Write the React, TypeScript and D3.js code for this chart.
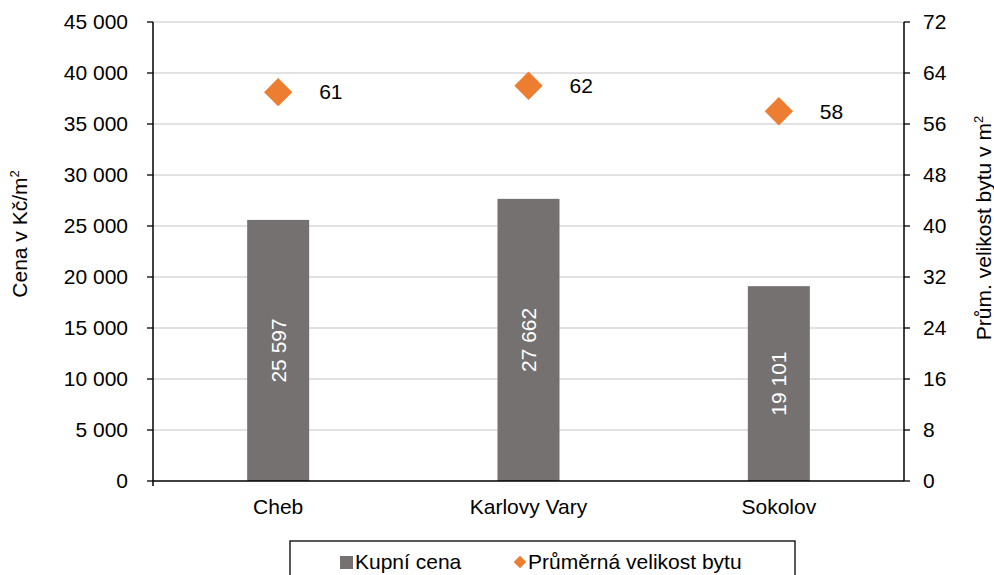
import React from "react";
import * as d3 from "d3";

const categories = ["Cheb", "Karlovy Vary", "Sokolov"];
const prices = [25597, 27662, 19101];
const sizes = [61, 62, 58];
const leftTicks = [0, 5000, 10000, 15000, 20000, 25000, 30000, 35000, 40000, 45000];
const rightTicks = [0, 8, 16, 24, 32, 40, 48, 56, 64, 72];

const W = 994, H = 575;
const M = { left: 153, right: 904, top: 22, bottom: 481 };
const FONT = "'Liberation Sans', Arial, sans-serif";
const FS = 21;
const fmt = (v: number) => d3.format(",")(v).replace(/,/g, " ");

export default function App() {
  const x = d3.scaleBand().domain(categories).range([M.left, M.right]).paddingInner(0).paddingOuter(0);
  const yL = d3.scaleLinear().domain([0, 45000]).range([M.bottom, M.top]);
  const yR = d3.scaleLinear().domain([0, 72]).range([M.bottom, M.top]);
  const barW = 62;
  const diamond = d3.symbol().type(d3.symbolSquare).size(400)();
  return (
    <svg width={W} height={H} style={{ position: "absolute", left: 0, top: 0, background: "#fff" }} fontFamily={FONT}>
      {leftTicks.map((t) => (
        <g key={"l" + t}>
          {t > 0 && <line x1={M.left} x2={M.right} y1={yL(t)} y2={yL(t)} stroke="#d9d9d9" strokeWidth={1.3} />}
          <line x1={M.left - 6} x2={M.left} y1={yL(t)} y2={yL(t)} stroke="#000" strokeWidth={1.3} />
          <text x={M.left - 25} y={yL(t)} dy="0.35em" textAnchor="end" fontSize={FS}>{fmt(t)}</text>
        </g>
      ))}
      {rightTicks.map((t) => (
        <g key={"r" + t}>
          <line x1={M.right} x2={M.right + 6} y1={yR(t)} y2={yR(t)} stroke="#000" strokeWidth={1.3} />
          <text x={M.right + 19} y={yR(t)} dy="0.35em" textAnchor="start" fontSize={FS}>{t}</text>
        </g>
      ))}
      {categories.map((c, i) => {
        const cx = (x(c) as number) + x.bandwidth() / 2;
        const top = yL(prices[i]);
        return (
          <g key={c}>
            <rect x={cx - barW / 2} y={top} width={barW} height={M.bottom - top} fill="#767171" />
            <text transform={`translate(${cx},${(top + M.bottom) / 2}) rotate(-90)`} textAnchor="middle" dy="0.35em" fontSize={FS} fill="#fff">{fmt(prices[i])}</text>
            <path d={diamond as string} transform={`translate(${cx},${yR(sizes[i])}) rotate(45)`} fill="#ED7D31" />
            <text x={cx + 41} y={yR(sizes[i])} dy="0.35em" fontSize={FS}>{sizes[i]}</text>
            <text x={cx} y={514} textAnchor="middle" fontSize={FS}>{c}</text>
          </g>
        );
      })}
      <line x1={M.left} x2={M.left} y1={M.top} y2={M.bottom + 5} stroke="#000" strokeWidth={1.5} />
      <line x1={M.right} x2={M.right} y1={M.top} y2={M.bottom} stroke="#000" strokeWidth={1.5} />
      <line x1={M.left} x2={M.right} y1={M.bottom} y2={M.bottom} stroke="#000" strokeWidth={1.5} />
      <text transform={`translate(20,234) rotate(-90)`} textAnchor="middle" dy="0.35em" fontSize={FS}>
        Cena v Kč/m<tspan dy="-8" fontSize={13}>2</tspan>
      </text>
      <text transform={`translate(984,228) rotate(-90)`} textAnchor="middle" dy="0.35em" fontSize={FS}>
        Prům. velikost bytu v m<tspan dy="-8" fontSize={13}>2</tspan>
      </text>
      <rect x={290} y={541} width={505} height={45} fill="#fff" stroke="#000" strokeWidth={1.3} />
      <rect x={340} y={556} width={13} height={13} fill="#767171" />
      <text x={355} y={562} dy="0.35em" fontSize={FS}>Kupní cena</text>
      <path d={d3.symbol().type(d3.symbolSquare).size(80)() as string} transform="translate(520,562) rotate(45)" fill="#ED7D31" />
      <text x={528} y={562} dy="0.35em" fontSize={FS}>Průměrná velikost bytu</text>
    </svg>
  );
}
